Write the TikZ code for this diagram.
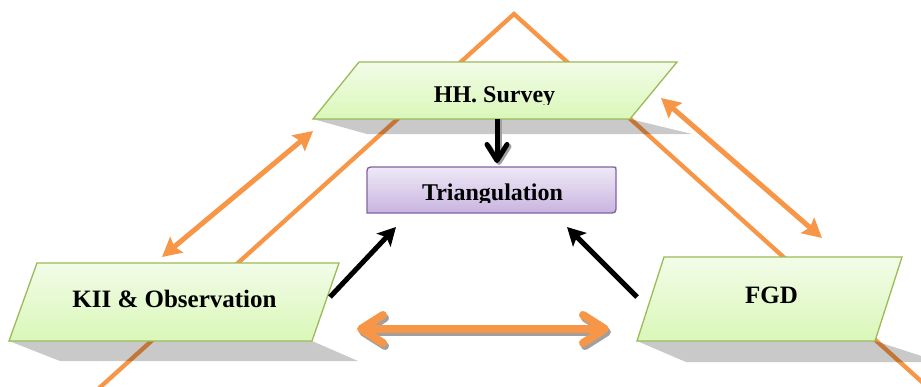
\documentclass[tikz,border=0pt]{standalone}
\usepackage{fontspec}
\setmainfont{Liberation Serif}
\usetikzlibrary{arrows.meta}
\definecolor{orng}{HTML}{F79646}
\definecolor{gbord}{HTML}{9BBB59}
\definecolor{gtop}{HTML}{F2FCE8}
\definecolor{gbot}{HTML}{DAF7B8}
\definecolor{pbord}{HTML}{8064A2}
\definecolor{ptop}{HTML}{EFE9F6}
\definecolor{pbot}{HTML}{C8B4DF}
\definecolor{shgray}{HTML}{A0A0A0}
\begin{document}
\begin{tikzpicture}[x=1pt,y=-1pt,
  frameline/.style={draw=orng,line width=4.3pt,line join=miter},
  shadowbox/.style={fill=black,fill opacity=0.21},
  greenbox/.style={draw=gbord,line width=1.3pt,top color=gtop,bottom color=gbot},
  purplebox/.style={draw=pbord,line width=1.3pt,top color=ptop,bottom color=pbot},
  lbl/.style={font=\bfseries\fontsize{24}{28}\selectfont,anchor=base,inner sep=0pt},
  lblb/.style={font=\bfseries\fontsize{25}{29}\selectfont,anchor=base,inner sep=0pt},
  orarrow/.style={draw=orng,line width=5pt,{Stealth[length=19pt,width=20pt,inset=3pt]}-{Stealth[length=19pt,width=20pt,inset=3pt]}},
  bkarrow/.style={draw=black,line width=5pt,-{Stealth[length=18pt,width=19pt,inset=4pt]}},
  fatarrow/.style={line width=8pt,{Straight Barb[length=22pt,width=28pt,round]}-{Straight Barb[length=22pt,width=28pt,round]}},
  downarrow/.style={line width=5pt,-{Straight Barb[length=16pt,width=20pt,round]}}
]
\clip (0,0) rectangle (921,386);
\fill[white] (0,0) rectangle (921,386);

% big orange triangle
\coordinate (apex) at (514,14);
\coordinate (bl) at (86,400);
\coordinate (br) at (942,400);
\draw[frameline] (bl) -- (apex) -- (br);

% shadows
\path[shadowbox] (313,119) -- (630,119) -- (692,134) -- (367,134) -- cycle;
\path[shadowbox] (9,341) -- (312,341) -- (358,361) -- (60,361) -- cycle;
\path[shadowbox] (637,341) -- (875,341) -- (940,362) -- (686,362) -- cycle;

% boxes
\path[greenbox] (359,62) -- (677,62) -- (630,119) -- (313,119) -- cycle;
\path[greenbox] (37,263) -- (339,263) -- (312,341) -- (9,341) -- cycle;
\path[greenbox] (664,257) -- (902,257) -- (875,341) -- (637,341) -- cycle;
\path[purplebox] (367,213) -- (367,175) .. controls (367,167) .. (375,167)
  -- (613,167) .. controls (616,167) .. (616,170)
  -- (616,205) .. controls (616,213) .. (608,213) -- cycle;

% labels (descenders clipped as in the picture)
\begin{scope}
  \clip (300,60) rectangle (700,104.5);
  \node[lbl] (hh) at (494.5,102) {HH. Survey};
\end{scope}
\begin{scope}
  \clip (360,165) rectangle (620,202.5);
  \node[lbl] (tri) at (492.5,200) {Triangulation};
\end{scope}
\node[lblb] (kii) at (174.5,307) {KII \& Observation};
\node[lblb] (fgd) at (771.5,303) {FGD};

% orange double arrows
\coordinate (la1) at (162,257);
\coordinate (la2) at (313,131);
\coordinate (ra1) at (661,98);
\coordinate (ra2) at (822,238);
\draw[orarrow] (la1) -- (la2);
\draw[orarrow] (ra1) -- (ra2);

% horizontal fat arrow with shadow
\coordinate (h1) at (357,329);
\coordinate (h2) at (609,329);
\coordinate (hs1) at (359,332);
\coordinate (hs2) at (611,332);
\draw[fatarrow,draw=shgray] (hs1) -- (hs2);
\draw[fatarrow,draw=orng] (h1) -- (h2);

% black arrows
\coordinate (d1) at (497,119);
\coordinate (d2) at (497,163);
\coordinate (ds1) at (499,119);
\coordinate (ds2) at (499,165);
\draw[downarrow,draw=shgray] (ds1) -- (ds2);
\draw[downarrow,draw=black] (d1) -- (d2);
\coordinate (k1) at (330,297);
\coordinate (k2) at (396,227);
\coordinate (f1) at (637,297);
\coordinate (f2) at (567,227);
\draw[bkarrow] (k1) -- (k2);
\draw[bkarrow] (f1) -- (f2);
\end{tikzpicture}
\end{document}
